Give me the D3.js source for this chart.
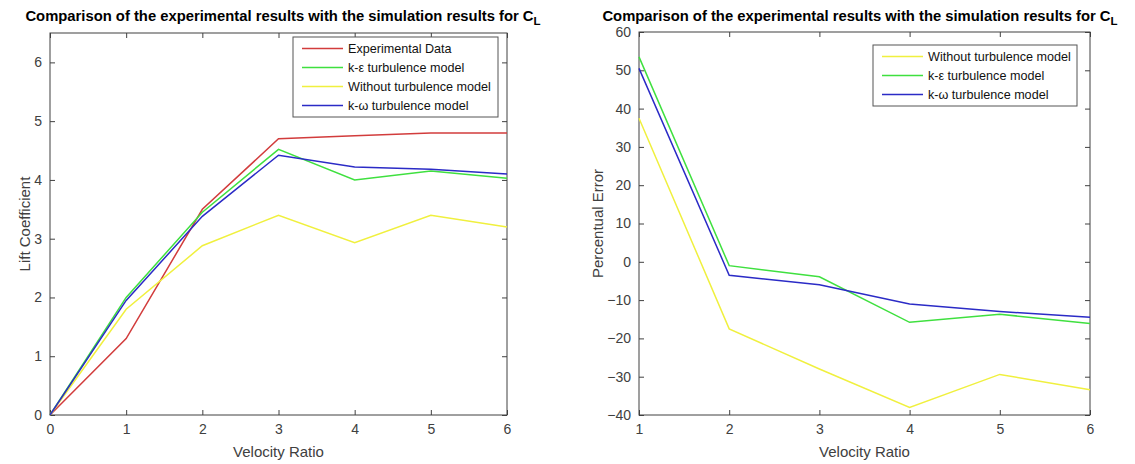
<!DOCTYPE html>
<html>
<head>
<meta charset="utf-8">
<script src="https://cdn.jsdelivr.net/npm/d3@7"></script>
<style>
  body { margin: 0; background: #fff; }
  text { font-family: "Liberation Sans", Arial, sans-serif; }
</style>
</head>
<body>
<svg id="chart" width="1135" height="464"></svg>
<script>
// left chart: lift coefficient vs velocity ratio
var ratioLeft = [0, 1, 2, 3, 4, 5, 6];
var experimental = [0, 1.3, 3.5, 4.7, 4.75, 4.8, 4.8];
var kEpsLeft = [0, 2.0, 3.45, 4.52, 4.0, 4.15, 4.03];
var noTurbLeft = [0, 1.8, 2.88, 3.4, 2.93, 3.4, 3.2];
var kOmegaLeft = [0, 1.95, 3.38, 4.42, 4.22, 4.18, 4.1];

// right chart: percentual error vs velocity ratio
var ratioRight = [1, 2, 3, 4, 5, 6];
var noTurbRight = [37.5, -17.5, -28, -38, -29.4, -33.4];
var kEpsRight = [53.5, -1, -3.9, -15.8, -13.7, -16.1];
var kOmegaRight = [50.5, -3.5, -6, -11, -13, -14.5];

var leftTicksY = [0, 1, 2, 3, 4, 5, 6];
var rightTicksY = [-40, -30, -20, -10, 0, 10, 20, 30, 40, 50, 60];

var COLORS = {
  exp: "#d23c3c",
  keps: "#3fe03f",
  none: "#f0f03e",
  komega: "#2b2bc6"
};
var AXIS_COLOR = "#404040";
var TITLE = "Comparison of the experimental results with the simulation results for C";

var svg = d3.select("#chart");

function drawPanel(opts) {
  var x = d3.scaleLinear().domain(opts.xDomain).range([opts.left, opts.right]);
  var y = d3.scaleLinear().domain(opts.yDomain).range([opts.bottom, opts.top]);
  var g = svg.append("g");

  // frame
  g.append("rect")
    .attr("x", opts.left).attr("y", opts.top)
    .attr("width", opts.right - opts.left).attr("height", opts.bottom - opts.top)
    .attr("fill", "none").attr("stroke", AXIS_COLOR).attr("stroke-width", 1);

  // matlab style inward ticks on all sides
  var tl = 5;
  g.append("g").attr("transform", "translate(0," + opts.bottom + ")")
    .call(d3.axisBottom(x).tickValues(opts.xTicks).tickSize(-tl).tickPadding(9).tickFormat(d3.format("d")))
    .call(styleAxis);
  g.append("g").attr("transform", "translate(0," + opts.top + ")")
    .call(d3.axisTop(x).tickValues(opts.xTicks).tickSize(-tl).tickFormat(""))
    .call(styleAxis);
  g.append("g").attr("transform", "translate(" + opts.left + ",0)")
    .call(d3.axisLeft(y).tickValues(opts.yTicks).tickSize(-tl).tickPadding(8).tickFormat(d3.format("d")))
    .call(styleAxis);
  g.append("g").attr("transform", "translate(" + opts.right + ",0)")
    .call(d3.axisRight(y).tickValues(opts.yTicks).tickSize(-tl).tickFormat(""))
    .call(styleAxis);

  var line = d3.line()
    .x(function(d) { return x(d[0]); })
    .y(function(d) { return y(d[1]); });

  opts.series.forEach(function(s) {
    g.append("path")
      .datum(d3.zip(opts.xs, s.values))
      .attr("d", line)
      .attr("fill", "none")
      .attr("stroke", s.color)
      .attr("stroke-width", 1.5);
  });

  // axis labels
  g.append("text")
    .attr("x", (opts.left + opts.right) / 2).attr("y", 457)
    .attr("text-anchor", "middle")
    .style("font-size", "15px").attr("fill", AXIS_COLOR)
    .text("Velocity Ratio");
  g.append("text")
    .attr("transform", "translate(" + opts.yLabelX + "," + ((opts.top + opts.bottom) / 2) + ") rotate(-90)")
    .attr("text-anchor", "middle")
    .style("font-size", "15px").attr("fill", AXIS_COLOR)
    .text(opts.yLabel);

  // title
  var t = g.append("text")
    .attr("x", opts.titleX).attr("y", 21)
    .attr("text-anchor", "middle")
    .style("font-size", "14.8px").style("font-weight", "bold").attr("fill", "#000");
  t.append("tspan").text(TITLE);
  t.append("tspan").attr("dy", 4).style("font-size", "11.5px").text("L");

  // legend
  var lg = g.append("g").attr("transform", "translate(" + opts.legend.x + "," + opts.legend.y + ")");
  lg.append("rect")
    .attr("width", opts.legend.w).attr("height", opts.series.length * 19 + 4)
    .attr("fill", "#fff").attr("stroke", "#555").attr("stroke-width", 1);
  opts.series.forEach(function(s, i) {
    var cy = 11.5 + i * 19;
    lg.append("line")
      .attr("x1", 9).attr("x2", 50).attr("y1", cy).attr("y2", cy)
      .attr("stroke", s.color).attr("stroke-width", 1.5);
    lg.append("text")
      .attr("x", 55).attr("y", cy + 4.5)
      .style("font-size", "12.6px").attr("fill", "#111")
      .text(s.name);
  });
}

function styleAxis(sel) {
  sel.select(".domain").remove();
  sel.selectAll(".tick line").attr("stroke", AXIS_COLOR);
  sel.selectAll(".tick text")
    .attr("fill", AXIS_COLOR)
    .style("font-size", "14px")
    .style("font-family", "'Liberation Sans', Arial, sans-serif");
}

drawPanel({
  left: 50, right: 507, top: 33, bottom: 415,
  xDomain: [0, 6], yDomain: [0, 6.5],
  xTicks: ratioLeft, yTicks: leftTicksY, xs: ratioLeft,
  yLabel: "Lift Coefficient", yLabelX: 30, titleX: 283,
  legend: { x: 293, y: 37, w: 205 },
  series: [
    { name: "Experimental Data", values: experimental, color: COLORS.exp },
    { name: "k-\u03b5 turbulence model", values: kEpsLeft, color: COLORS.keps },
    { name: "Without turbulence model", values: noTurbLeft, color: COLORS.none },
    { name: "k-\u03c9 turbulence model", values: kOmegaLeft, color: COLORS.komega }
  ]
});

drawPanel({
  left: 639, right: 1090, top: 32, bottom: 415,
  xDomain: [1, 6], yDomain: [-40, 60],
  xTicks: ratioRight, yTicks: rightTicksY, xs: ratioRight,
  yLabel: "Percentual Error", yLabelX: 603, titleX: 860,
  legend: { x: 873, y: 45, w: 204 },
  series: [
    { name: "Without turbulence model", values: noTurbRight, color: COLORS.none },
    { name: "k-\u03b5 turbulence model", values: kEpsRight, color: COLORS.keps },
    { name: "k-\u03c9 turbulence model", values: kOmegaRight, color: COLORS.komega }
  ]
});
</script>
</body>
</html>
